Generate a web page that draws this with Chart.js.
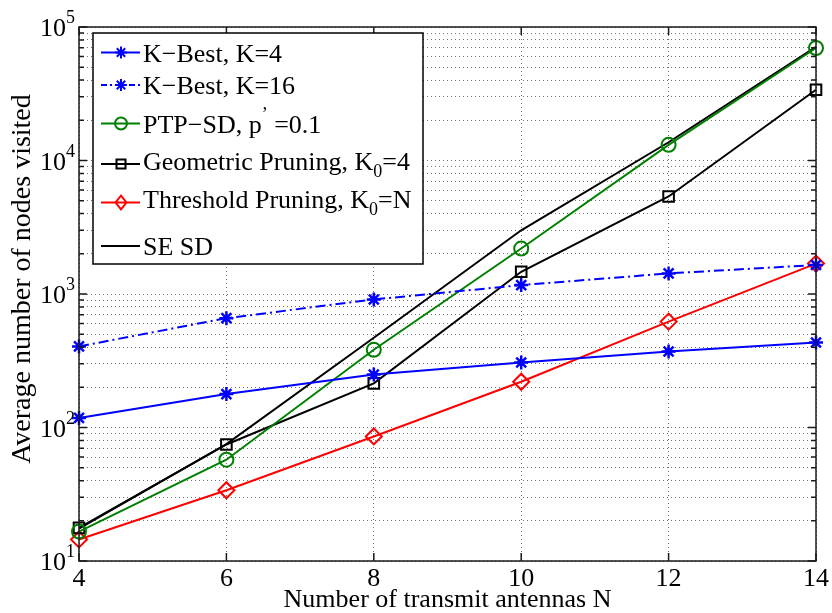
<!DOCTYPE html>
<html><head><meta charset="utf-8">
<script src="https://cdn.jsdelivr.net/npm/chart.js@4/dist/chart.umd.min.js"></script>
<style>html,body{margin:0;padding:0;background:#fff;}#wrap{width:832px;height:613px;}</style>
</head><body><div id="wrap"><canvas id="c" width="832" height="613"></canvas></div>
<script>
// ---- data ----
const antennas = [4, 6, 8, 10, 12, 14];
const kBest4 = [118, 178, 249, 307, 371, 433];
const kBest16 = [405, 659, 910, 1166, 1426, 1650];
const ptpSD = [16.6, 57.4, 382, 2190, 13100, 69600];
const geometricPruning = [17.7, 74.6, 214, 1466, 5380, 33900];
const thresholdPruning = [14.5, 33.9, 85.7, 220, 621, 1690];
const seSD = [17.5, 75, 470, 3000, 13700, 71000];
const xTickValues = [4, 6, 8, 10, 12, 14];
const yDecades = [10, 100, 1000, 10000, 100000];
const yTickLabels = ['10^1', '10^2', '10^3', '10^4', '10^5'];
const seriesLabels = ['K\u2212Best, K=4', 'K\u2212Best, K=16', "PTP\u2212SD, p^\u2019 =0.1",
  'Geometric Pruning, K_0=4', 'Threshold Pruning, K_0=N', 'SE SD'];
const xTitle = 'Number of transmit antennas N';
const yTitle = 'Average number of nodes visited';

const FONT = '"Liberation Serif", "Times New Roman", serif';
const pts = arr => antennas.map((x, i) => ({x: x, y: arr[i]}));

function ds(label, arr, color, style, radius, dash) {
  return {label: label, data: pts(arr), borderColor: color, backgroundColor: color,
    pointBorderColor: color, pointBackgroundColor: 'rgba(0,0,0,0)',
    borderWidth: 2, pointBorderWidth: style === 'star' ? 2.5 : 2, pointStyle: style, pointRadius: radius,
    borderDash: dash || [], tension: 0, clip: false, fill: false};
}
const datasets = [
  ds(seriesLabels[0], kBest4, '#0000ff', 'star', 7),
  ds(seriesLabels[1], kBest16, '#0000ff', 'star', 7, [10, 4, 2, 4]),
  ds(seriesLabels[2], ptpSD, '#008000', 'circle', 7),
  ds(seriesLabels[3], geometricPruning, '#000000', 'rect', 7.5),
  ds(seriesLabels[4], thresholdPruning, '#ff0000', 'rectRot', 8),
  ds(seriesLabels[5], seSD, '#000000', false, 0)
];

function drawMarker(ctx, style, x, y, r) {
  ctx.beginPath();
  if (style === 'star') {
    for (let k = 0; k < 4; k++) {
      const a = k * Math.PI / 4;
      ctx.moveTo(x - r * Math.cos(a), y - r * Math.sin(a));
      ctx.lineTo(x + r * Math.cos(a), y + r * Math.sin(a));
    }
  } else if (style === 'circle') {
    ctx.arc(x, y, r, 0, 2 * Math.PI);
  } else if (style === 'rect') {
    const s = r * Math.SQRT1_2;
    ctx.rect(x - s, y - s, 2 * s, 2 * s);
  } else if (style === 'rectRot') {
    ctx.moveTo(x, y - r); ctx.lineTo(x + r * 0.8, y); ctx.lineTo(x, y + r); ctx.lineTo(x - r * 0.8, y); ctx.closePath();
  } else return;
  ctx.stroke();
}

// parses "_x" (subscript) and "^x" (superscript)
function richParts(text, size) {
  const parts = [];
  let i = 0;
  while (i < text.length) {
    let ch = text[i];
    if ((ch === '_' || ch === '^') && i + 1 < text.length) {
      parts.push({t: text[i + 1], fs: Math.round(size * 0.68), dy: ch === '_' ? size * 0.28 : -size * 0.5});
      i += 2;
    } else {
      let j = i;
      while (j < text.length && text[j] !== '_' && text[j] !== '^') j++;
      parts.push({t: text.slice(i, j), fs: size, dy: 0});
      i = j;
    }
  }
  return parts;
}
function drawRich(ctx, text, x, baseline, size, alignRight) {
  const parts = richParts(text, size);
  if (alignRight) {
    let w = 0;
    parts.forEach(p => { ctx.font = p.fs + 'px ' + FONT; w += ctx.measureText(p.t).width; });
    x -= w;
  }
  parts.forEach(p => {
    ctx.font = p.fs + 'px ' + FONT;
    ctx.fillText(p.t, x, baseline + p.dy);
    x += ctx.measureText(p.t).width;
  });
}

const framePlugin = {
  id: 'frame',
  afterDatasetsDraw(chart) {
    const {ctx, chartArea: a, scales} = chart;
    ctx.save();
    ctx.strokeStyle = '#1a1a1a';
    ctx.lineWidth = 1.5;
    ctx.setLineDash([]);
    // inward ticks
    ctx.beginPath();
    xTickValues.forEach(v => {
      const px = scales.x.getPixelForValue(v);
      ctx.moveTo(px, a.bottom); ctx.lineTo(px, a.bottom - 8);
      ctx.moveTo(px, a.top); ctx.lineTo(px, a.top + 8);
    });
    scales.y.ticks.forEach(t => {
      const py = scales.y.getPixelForValue(t.value);
      const major = yDecades.some(d => Math.abs(d - t.value) < 1e-6 * d);
      const L = major ? 8 : 5;
      ctx.moveTo(a.left, py); ctx.lineTo(a.left + L, py);
      ctx.moveTo(a.right, py); ctx.lineTo(a.right - L, py);
    });
    ctx.stroke();
    ctx.strokeRect(a.left, a.top, a.right - a.left, a.bottom - a.top);

    // y tick labels with superscript exponents
    ctx.fillStyle = '#000';
    ctx.textAlign = 'left';
    ctx.textBaseline = 'alphabetic';
    yDecades.forEach((v, i) => {
      const py = scales.y.getPixelForValue(v);
      drawRich(ctx, yTickLabels[i].replace('^', '^'), a.left - 4, py + 9, 26, true);
    });

    // y axis title
    ctx.save();
    ctx.translate(23, 279);
    ctx.rotate(-Math.PI / 2);
    ctx.fillStyle = '#000';
    ctx.textAlign = 'center';
    ctx.textBaseline = 'middle';
    ctx.font = '28px ' + FONT;
    ctx.fillText(yTitle, 0, 0);
    ctx.restore();

    // legend
    const bx = 93, by = 33, bw = 330, bh = 231;
    ctx.fillStyle = '#fff';
    ctx.fillRect(bx, by, bw, bh);
    ctx.lineWidth = 1.5;
    ctx.strokeStyle = '#000';
    ctx.strokeRect(bx, by, bw, bh);
    const rowY = [52.5, 85, 123.5, 164, 202.5, 246];
    const baseOff = [9, 9, 9, 5.5, 5.5, 9];
    chart.data.datasets.forEach((d, i) => {
      const y = rowY[i];
      ctx.strokeStyle = d.borderColor;
      ctx.lineWidth = 2;
      ctx.setLineDash(d.borderDash.length ? [6, 3, 2, 3] : []);
      ctx.beginPath(); ctx.moveTo(101, y); ctx.lineTo(140, y); ctx.stroke();
      ctx.setLineDash([]);
      if (d.pointStyle) drawMarker(ctx, d.pointStyle, 121, y, d.pointRadius * 0.85);
      ctx.fillStyle = '#000';
      ctx.textBaseline = 'alphabetic';
      ctx.textAlign = 'left';
      drawRich(ctx, d.label, 143, y + baseOff[i], 26, false);
    });
    ctx.restore();
  }
};

new Chart(document.getElementById('c'), {
  type: 'line',
  data: {datasets: datasets},
  options: {
    responsive: false, animation: false, devicePixelRatio: 1,
    layout: {padding: {top: 27, right: 15, left: 0, bottom: 0}},
    plugins: {legend: {display: false}, tooltip: {enabled: false}},
    scales: {
      x: {
        type: 'linear', min: 4, max: 14,
        afterBuildTicks: s => { s.ticks = xTickValues.map(v => ({value: v})); },
        afterFit: s => { s.height = 52; },
        ticks: {font: {family: FONT, size: 26}, color: '#000', padding: 3, autoSkip: false, maxRotation: 0},
        grid: {color: 'rgba(0,0,0,0.55)', lineWidth: 1, drawTicks: false},
        border: {display: false, dash: [1, 3]},
        title: {display: true, text: xTitle, font: {family: FONT, size: 26, lineHeight: 1}, color: '#000', padding: {top: 0, bottom: 0}}
      },
      y: {
        type: 'logarithmic', min: 10, max: 100000,
        afterBuildTicks: s => {
          const t = [];
          for (let e = 1; e <= 4; e++) for (let m = 1; m <= 9; m++) t.push({value: m * Math.pow(10, e)});
          t.push({value: 100000});
          s.ticks = t;
        },
        afterFit: s => { s.width = 79; },
        ticks: {display: false, autoSkip: false},
        grid: {color: 'rgba(0,0,0,0.55)', lineWidth: 1, drawTicks: false},
        border: {display: false, dash: [1, 3]},
        title: {display: false, text: yTitle}
      }
    }
  },
  plugins: [framePlugin]
});
</script></body></html>
